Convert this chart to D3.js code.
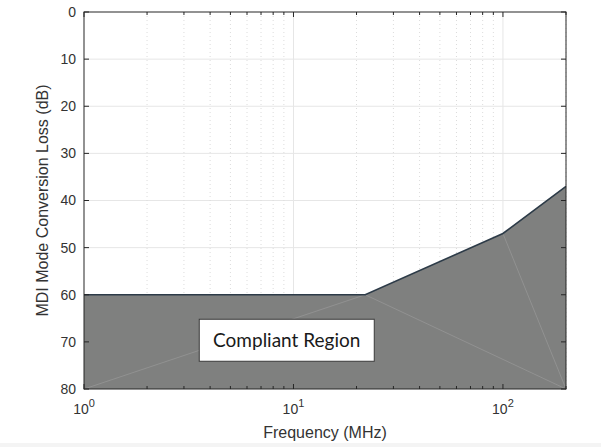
<!DOCTYPE html>
<html>
<head>
<meta charset="utf-8">
<script src="https://cdn.jsdelivr.net/npm/d3@7"></script>
<style>
  body { margin: 0; background: #fff; }
</style>
</head>
<body>
<div id="chart"></div>
<script>
// limit line (frequency MHz, loss dB)
const freqs = [1, 22, 100, 200];
const lossDb = [60, 60, 47, 37];
const yTicks = [0, 10, 20, 30, 40, 50, 60, 70, 80];
const xMajor = [1, 10, 100];
const xMinor = [2, 3, 4, 5, 6, 7, 8, 9, 20, 30, 40, 50, 60, 70, 80, 90, 200];
const boxLabel = "Compliant Region";

const W = 601, H = 447;
const margin = {top: 12, right: 35, bottom: 58, left: 84};
const width = W - margin.left - margin.right,
      height = H - margin.top - margin.bottom;
const font = "'Liberation Sans', Arial, Helvetica, sans-serif";

const svg = d3.select("#chart").append("svg")
    .attr("width", W).attr("height", H)
    .attr("font-family", font);

const g = svg.append("g")
    .attr("transform", `translate(${margin.left},${margin.top})`);

const x = d3.scaleLog().domain([1, 200]).range([0, width]);
const y = d3.scaleLinear().domain([0, 80]).range([0, height]);

// grid
g.append("g").selectAll("line").data(yTicks.slice(1, -1)).join("line")
    .attr("x1", 0).attr("x2", width)
    .attr("y1", d => y(d)).attr("y2", d => y(d))
    .attr("stroke", "#e6e6e6").attr("stroke-width", 1);
g.append("g").selectAll("line").data(xMinor).join("line")
    .attr("x1", d => x(d)).attr("x2", d => x(d))
    .attr("y1", 0).attr("y2", height)
    .attr("stroke", "#dcdcdc").attr("stroke-width", 1)
    .attr("stroke-dasharray", "1,3");
g.append("g").selectAll("line").data([10, 100]).join("line")
    .attr("x1", d => x(d)).attr("x2", d => x(d))
    .attr("y1", 0).attr("y2", height)
    .attr("stroke", "#e6e6e6").attr("stroke-width", 1);

// shaded compliant region
const pts = freqs.map((f, i) => [x(f), y(lossDb[i])]);
const area = d3.area()
    .x(d => d[0]).y0(height).y1(d => d[1]);
g.append("path").datum(pts)
    .attr("d", area)
    .attr("fill", "#7f807f");

// faint triangulation edges of the patch
const bl = [x(1), y(80)], br = [x(200), y(80)];
const edges = [[bl, pts[1]], [pts[1], br], [pts[2], br]];
g.append("g").selectAll("line").data(edges).join("line")
    .attr("x1", d => d[0][0]).attr("y1", d => d[0][1])
    .attr("x2", d => d[1][0]).attr("y2", d => d[1][1])
    .attr("stroke", "#959595").attr("stroke-width", 0.8);

g.append("path").datum(pts)
    .attr("d", d3.line())
    .attr("fill", "none")
    .attr("stroke", "#2d3b48")
    .attr("stroke-width", 1.6);

// axes box
const axisColor = "#262626";
const tickLen = 5;
g.append("rect").attr("width", width).attr("height", height)
    .attr("fill", "none").attr("stroke", axisColor).attr("stroke-width", 1);

const yAxis = d3.axisLeft(y).tickValues(yTicks).tickSize(0).tickPadding(8);
g.append("g").call(yAxis)
    .attr("font-family", font)
    .call(s => s.select(".domain").remove())
    .selectAll("text").style("font-size", "14px").attr("fill", "#333");

// inward ticks, left/right
[0, width].forEach(px => {
  g.append("g").selectAll("line").data(yTicks).join("line")
      .attr("x1", px).attr("x2", px === 0 ? tickLen : width - tickLen)
      .attr("y1", d => y(d)).attr("y2", d => y(d))
      .attr("stroke", axisColor);
});
// inward ticks, top/bottom
[0, height].forEach(py => {
  const dir = py === 0 ? 1 : -1;
  g.append("g").selectAll("line").data(xMinor).join("line")
      .attr("x1", d => x(d)).attr("x2", d => x(d))
      .attr("y1", py).attr("y2", py + dir * 3)
      .attr("stroke", axisColor);
  g.append("g").selectAll("line").data(xMajor).join("line")
      .attr("x1", d => x(d)).attr("x2", d => x(d))
      .attr("y1", py).attr("y2", py + dir * tickLen)
      .attr("stroke", axisColor);
});

// x tick labels 10^n
const xl = g.append("g").selectAll("text").data(xMajor).join("text")
    .attr("x", d => x(d))
    .attr("y", height + 25)
    .attr("text-anchor", "middle")
    .attr("fill", "#333")
    .style("font-size", "14px");
xl.append("tspan").text("10");
xl.append("tspan").attr("dy", -7).style("font-size", "11px")
    .text(d => Math.round(Math.log10(d)));

// axis titles
g.append("text")
    .attr("x", width / 2).attr("y", height + 49)
    .attr("text-anchor", "middle")
    .attr("fill", "#333")
    .style("font-size", "16px")
    .text("Frequency (MHz)");
g.append("text")
    .attr("transform", `translate(-36,${height / 2}) rotate(-90)`)
    .attr("text-anchor", "middle")
    .attr("fill", "#333")
    .style("font-size", "16px")
    .text("MDI Mode Conversion Loss (dB)");

// label box
const bx = x(3.55), by = y(65.2);
g.append("rect")
    .attr("x", bx).attr("y", by)
    .attr("width", 175).attr("height", 42)
    .attr("fill", "#fff").attr("stroke", "#3a3a3a").attr("stroke-width", 1);
g.append("text")
    .attr("x", bx + 87.5).attr("y", by + 28)
    .attr("text-anchor", "middle")
    .attr("font-family", "Lato, 'Open Sans', sans-serif")
    .style("font-size", "19px")
    .attr("fill", "#1a1a1a")
    .text(boxLabel);

svg.append("rect").attr("x", 0).attr("y", 443).attr("width", W).attr("height", 4)
    .attr("fill", "#f4f4f4");
</script>
</body>
</html>
